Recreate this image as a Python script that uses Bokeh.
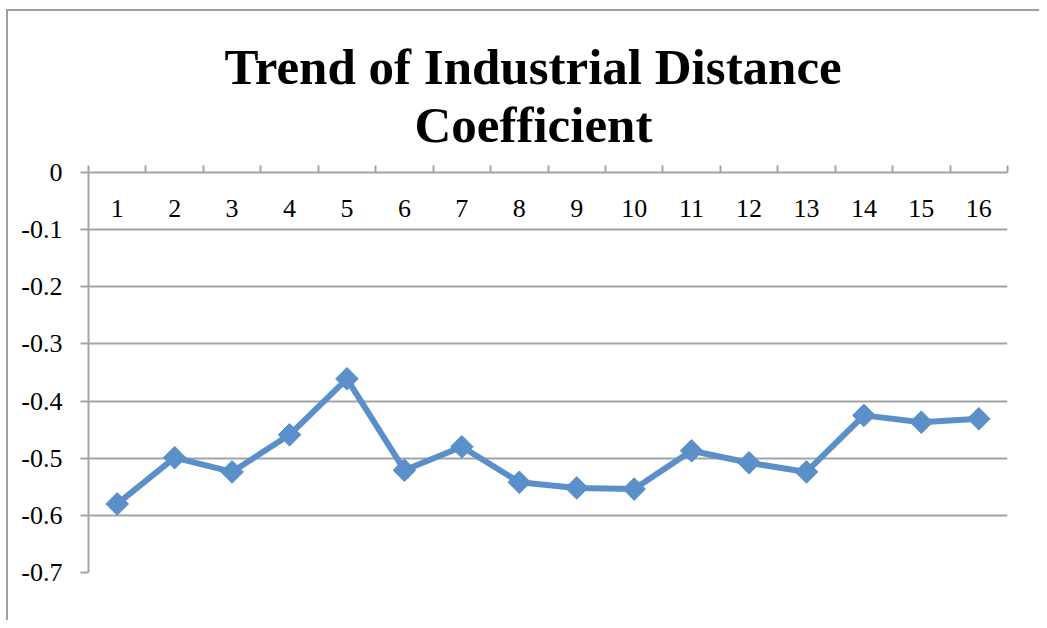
import math
from bokeh.plotting import figure
from bokeh.models import FixedTicker, ColumnDataSource, Title
from bokeh.core.properties import value
from bokeh.embed import file_html
from bokeh.resources import INLINE

categories = [str(i) for i in range(1, 17)]
coefficients = [-0.580, -0.499, -0.524, -0.459, -0.361, -0.521, -0.480, -0.542,
                -0.552, -0.554, -0.487, -0.508, -0.524, -0.425, -0.437, -0.431]
y_ticks = [0, -0.1, -0.2, -0.3, -0.4, -0.5, -0.6, -0.7]
y_tick_labels = ["0", "-0.1", "-0.2", "-0.3", "-0.4", "-0.5", "-0.6", "-0.7"]
title_lines = ["Trend of Industrial Distance", "Coefficient"]

LINE = "#5a8fc9"
GRID = "#a3a3a3"
SERIF = "Liberation Serif"

xs = [float(c) for c in categories]
src = ColumnDataSource(dict(x=xs, y=coefficients))

border_css = {
    "background-color": "white",
    "background-image": "linear-gradient(#a0a0a0,#a0a0a0), linear-gradient(#a0a0a0,#a0a0a0)",
    "background-size": "2px 100%, 100% 2px",
    "background-position": "6px 9px, 6px 9px",
    "background-repeat": "no-repeat",
}

p = figure(width=1039, height=620, x_range=(0.5, len(categories) + 0.5), y_range=(-0.7, 0),
           output_backend="svg", toolbar_location=None, x_axis_location="above",
           min_border_left=88, min_border_right=32, min_border_bottom=48, min_border_top=172,
           background_fill_color="white", border_fill_color=None, outline_line_color=None,
           styles=border_css, title=None)

# spacer between the top axis and the title block
p.add_layout(Title(text=" ", text_font_size="10px", standoff=0), "above")

# two title lines, left-aligned with offsets so each line is centred near x=532
title_offsets = {"Trend of Industrial Distance": 136, "Coefficient": 326}
for txt in reversed(title_lines):
    t = Title(text=txt, text_font=SERIF, text_font_size="51px", text_font_style="bold",
              align="left", text_color="black", offset=title_offsets[txt], standoff=0)
    p.add_layout(t, "above")

# x axis (top): boundary ticks, labels drawn below line
xa = p.xaxis[0]
bticks = [i + 0.5 for i in range(len(categories) + 1)]
xa.ticker = FixedTicker(ticks=bticks)
xa.major_label_overrides = {t: "" for t in bticks}
xa.major_tick_out = 7
xa.major_tick_in = 0
xa.minor_tick_line_color = None
xa.axis_line_color = GRID
xa.major_tick_line_color = GRID
xa.axis_line_width = 2
xa.major_tick_line_width = 2

ya = p.yaxis[0]
ya.ticker = FixedTicker(ticks=y_ticks)
ya.major_label_overrides = {t: l for t, l in zip(y_ticks, y_tick_labels)}
ya.major_label_text_font = SERIF
ya.major_label_text_font_size = "26px"
ya.major_label_text_color = "black"
ya.major_tick_out = 8
ya.major_tick_in = 0
ya.minor_tick_line_color = None
ya.axis_line_color = GRID
ya.major_tick_line_color = GRID
ya.axis_line_width = 2
ya.major_tick_line_width = 2
ya.major_label_standoff = 18

p.xgrid.grid_line_color = None
p.ygrid.ticker = FixedTicker(ticks=y_ticks[1:])
p.ygrid.grid_line_color = GRID
p.ygrid.grid_line_width = 2

# category labels just below the top axis line
p.text(x=xs, y=[-0.063] * len(xs), text=categories, text_align="center",
       text_baseline="middle", text_font=value(SERIF), text_font_size="26px",
       text_color="black")

p.line("x", "y", source=src, line_color=LINE, line_width=6)
p.scatter("x", "y", source=src, marker="square", size=16, angle=math.pi / 4,
          fill_color=LINE, line_color=LINE, line_width=1)

open("out.html", "w").write(file_html(p, INLINE))
